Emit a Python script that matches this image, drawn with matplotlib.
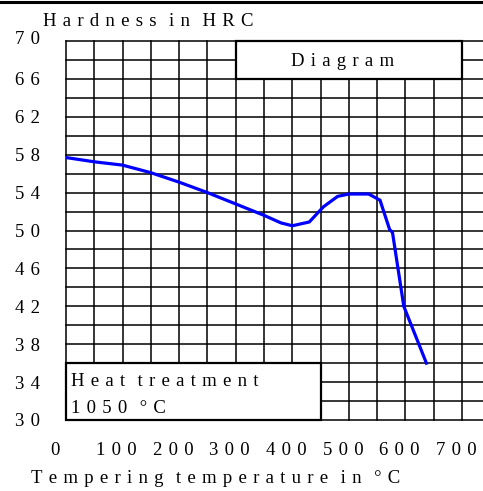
import matplotlib
matplotlib.use("Agg")
import matplotlib.pyplot as plt
from matplotlib.patches import Rectangle
from matplotlib.lines import Line2D
from matplotlib.transforms import ScaledTranslation

# ---- data ----
temps = [0, 50, 100, 150, 200, 250, 300, 350, 380, 400, 430, 455, 480, 500, 535, 555, 572, 577, 597, 637]
hardness = [57.7, 57.25, 56.9, 56.1, 55.1, 54.0, 52.8, 51.6, 50.8, 50.5, 50.9, 52.5, 53.6, 53.85, 53.85, 53.2, 50.1, 49.8, 42.0, 36.0]
x_ticks = [0, 100, 200, 300, 400, 500, 600, 700]
y_ticks = [30, 34, 38, 42, 46, 50, 54, 58, 62, 66, 70]
x_label = "Tempering temperature in °C"
y_label = "Hardness in HRC"
box_title = "Diagram"
box_note = ["Heat treatment", "1050 °C"]

W, H = 483, 491
FS = 13.5
FAM = ["Liberation Serif", "DejaVu Serif"]
SEP = "\u2004"


def spaced(s):
    words = s.split(" ")
    return (SEP * 2).join(SEP.join(list(w)) for w in words)


fig = plt.figure(figsize=(W / 100, H / 100), dpi=100)
ax = fig.add_axes([66 / W, 71 / H, 1 - 66 / W, 379 / H])
ax.set_xlim(0, 737)
ax.set_ylim(30, 70)
for s in ax.spines.values():
    s.set_visible(False)

# grid
for yv in range(30, 71, 2):
    ax.axhline(yv, color="black", lw=1.1, clip_on=False, zorder=1)
for xv in range(0, 701, 50):
    ax.axvline(xv, color="black", lw=1.1, clip_on=False, zorder=1)

# boxes
ax.add_patch(Rectangle((300, 66), 400, 4, facecolor="white", edgecolor="black",
                       lw=1.6, zorder=2, clip_on=False))
ax.add_patch(Rectangle((0, 30), 450, 6, facecolor="white", edgecolor="black",
                       lw=1.6, zorder=2, clip_on=False))

# curve
ax.plot(temps, hardness, color="#0000ff", lw=2.3, zorder=3, solid_joinstyle="miter")

# ticks
ax.tick_params(length=0)
ax.set_xticks(x_ticks)
ax.set_xticklabels([spaced(str(v)) for v in x_ticks], fontsize=FS, family=FAM)
ax.set_yticks(y_ticks)
ax.set_yticklabels([spaced(str(v)) for v in y_ticks], fontsize=FS, family=FAM)
ax.tick_params(axis="x", pad=16)
ax.tick_params(axis="y", pad=19)
for i, lab in enumerate(ax.get_xticklabels()):
    dx = -11 if i == 0 else -6
    lab.set_transform(lab.get_transform() + ScaledTranslation(dx / 100, 0, fig.dpi_scale_trans))
for i, lab in enumerate(ax.get_yticklabels()):
    if y_ticks[i] == 70:
        lab.set_transform(lab.get_transform() + ScaledTranslation(0, 4 / 100, fig.dpi_scale_trans))


def fx(px):
    return px / W


def fy(py):
    return 1 - py / H


fig.text(fx(43), fy(26), spaced(y_label), fontsize=FS, family=FAM, ha="left", va="baseline")
fig.text(fx(216), fy(483), spaced(x_label), fontsize=FS, family=FAM, ha="center", va="baseline")
fig.text(fx(343), fy(66), spaced(box_title), fontsize=FS, family=FAM, ha="center", va="baseline")
fig.text(fx(71), fy(386), spaced(box_note[0]), fontsize=FS, family=FAM, ha="left", va="baseline")
fig.text(fx(71), fy(413), spaced(box_note[1]), fontsize=FS, family=FAM, ha="left", va="baseline")

# top border line
fig.add_artist(Line2D([0, 1], [1 - 1.5 / H, 1 - 1.5 / H], transform=fig.transFigure,
                      color="black", lw=2.2))

fig.savefig("out.png", dpi=100)
